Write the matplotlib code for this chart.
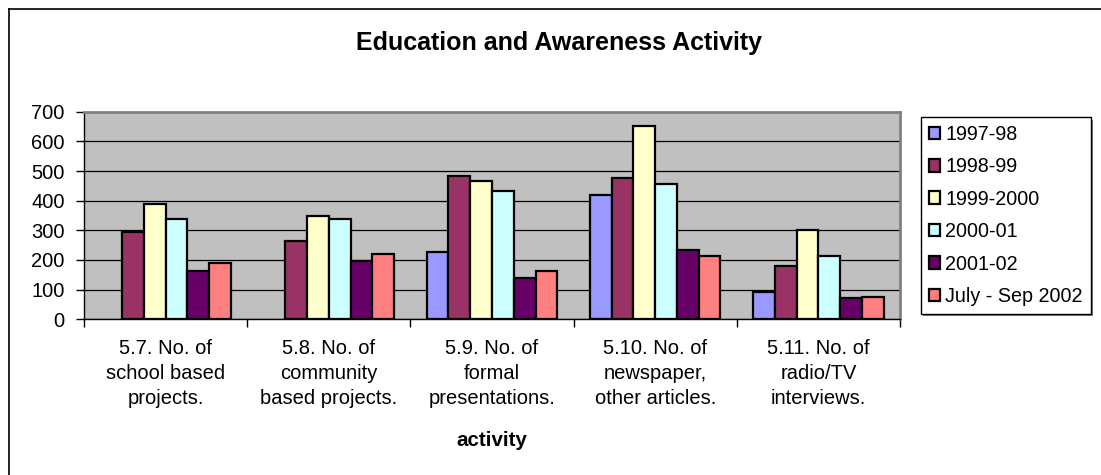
import numpy as np
import matplotlib
matplotlib.use("Agg")
import matplotlib.pyplot as plt
from matplotlib.patches import Patch, Rectangle
from matplotlib.lines import Line2D

plt.rcParams['font.family'] = ['Liberation Sans', 'DejaVu Sans']

categories = [
    "5.7. No. of\nschool based\nprojects.",
    "5.8. No. of\ncommunity\nbased projects.",
    "5.9. No. of\nformal\npresentations.",
    "5.10. No. of\nnewspaper,\nother articles.",
    "5.11. No. of\nradio/TV\ninterviews.",
]
series_names = ["1997-98", "1998-99", "1999-2000", "2000-01", "2001-02", "July - Sep 2002"]
v_1997_98 = [np.nan, np.nan, 226, 419, 93]
v_1998_99 = [296, 265, 482, 478, 180]
v_1999_2000 = [389, 348, 467, 651, 300]
v_2000_01 = [339, 339, 433, 455, 212]
v_2001_02 = [164, 196, 139, 233, 71]
v_jul_sep_2002 = [191, 220, 163, 215, 76]
series_values = [v_1997_98, v_1998_99, v_1999_2000, v_2000_01, v_2001_02, v_jul_sep_2002]
colors = ["#9999FF", "#993366", "#FFFFCC", "#CCFFFF", "#660066", "#FF8080"]
yticks = [0, 100, 200, 300, 400, 500, 600, 700]

W, H = 1101, 475
fig = plt.figure(figsize=(W / 100, H / 100), dpi=100)
fig.patch.set_facecolor("white")

ax = fig.add_axes([84 / W, 1 - 319.3 / H, (900 - 84) / W, (319.3 - 111.7) / H])
ax.set_facecolor("#C0C0C0")

x = np.arange(len(categories))
bw = 1 / 7.5
for i, (vals, col) in enumerate(zip(series_values, colors)):
    offs = (i - 2.5) * bw
    ax.bar(x + offs, vals, width=bw, color=col, edgecolor="black",
           linewidth=1.6, zorder=3, label=series_names[i])

ax.set_xlim(-0.5, len(categories) - 0.5)
ax.set_ylim(0, 700)
ax.set_yticks(yticks)
ax.set_yticklabels([str(t) for t in yticks], fontsize=14.5)
ax.yaxis.grid(True, color="black", linewidth=0.9, zorder=1)
ax.set_axisbelow(True)

ax.set_xticks(x)
ax.set_xticklabels(categories, fontsize=14.5, linespacing=1.4, multialignment="center")
ax.set_xticks(np.arange(len(categories) + 1) - 0.5, minor=True)
ax.tick_params(axis="x", which="major", length=0, pad=14)
ax.tick_params(axis="x", which="minor", length=6, width=1, color="black", direction="out")
ax.tick_params(axis="y", length=6, width=1, direction="out", pad=8)

for s in ["top", "right"]:
    ax.spines[s].set_color("#808080")
    ax.spines[s].set_linewidth(2)
for s in ["left", "bottom"]:
    ax.spines[s].set_color("black")
    ax.spines[s].set_linewidth(1)

fig.text(559 / W, 1 - 43 / H, "Education and Awareness Activity", fontsize=18,
         fontweight="bold", ha="center", va="center")
fig.text(491.5 / W, 1 - 440 / H, "activity", fontsize=14.8,
         fontweight="bold", ha="center", va="center")

# legend
lx0, ly0 = 920.7, 117
handles = [Patch(facecolor=c, edgecolor="black", linewidth=1.6) for c in colors]
leg = fig.legend(handles, series_names, loc="upper left",
                 bbox_to_anchor=(lx0 / W, 1 - ly0 / H), fontsize=14.2,
                 frameon=True, fancybox=False, shadow=False, framealpha=1,
                 facecolor="white", edgecolor="black",
                 handlelength=0.6, handleheight=0.6, handletextpad=0.25,
                 labelspacing=0.68, borderpad=0.4, borderaxespad=0)
leg.get_frame().set_linewidth(1)
leg.set_zorder(5)

# drop shadow behind the legend frame
fig.canvas.draw()
bb = leg.get_frame().get_window_extent()
fig.patches.append(Rectangle(((bb.x0 + 2.5) / W, (bb.y0 - 2.5) / H), bb.width / W, bb.height / H,
                             transform=fig.transFigure, facecolor="#808080",
                             edgecolor="none", zorder=1))

# outer chart border (top and left)
fig.add_artist(Line2D([9 / W, 9 / W], [0, 1 - 9 / H], transform=fig.transFigure, color="black", linewidth=1.2))
fig.add_artist(Line2D([9 / W, 1], [1 - 9 / H, 1 - 9 / H], transform=fig.transFigure, color="black", linewidth=1.2))

fig.savefig("out.png", dpi=100)
